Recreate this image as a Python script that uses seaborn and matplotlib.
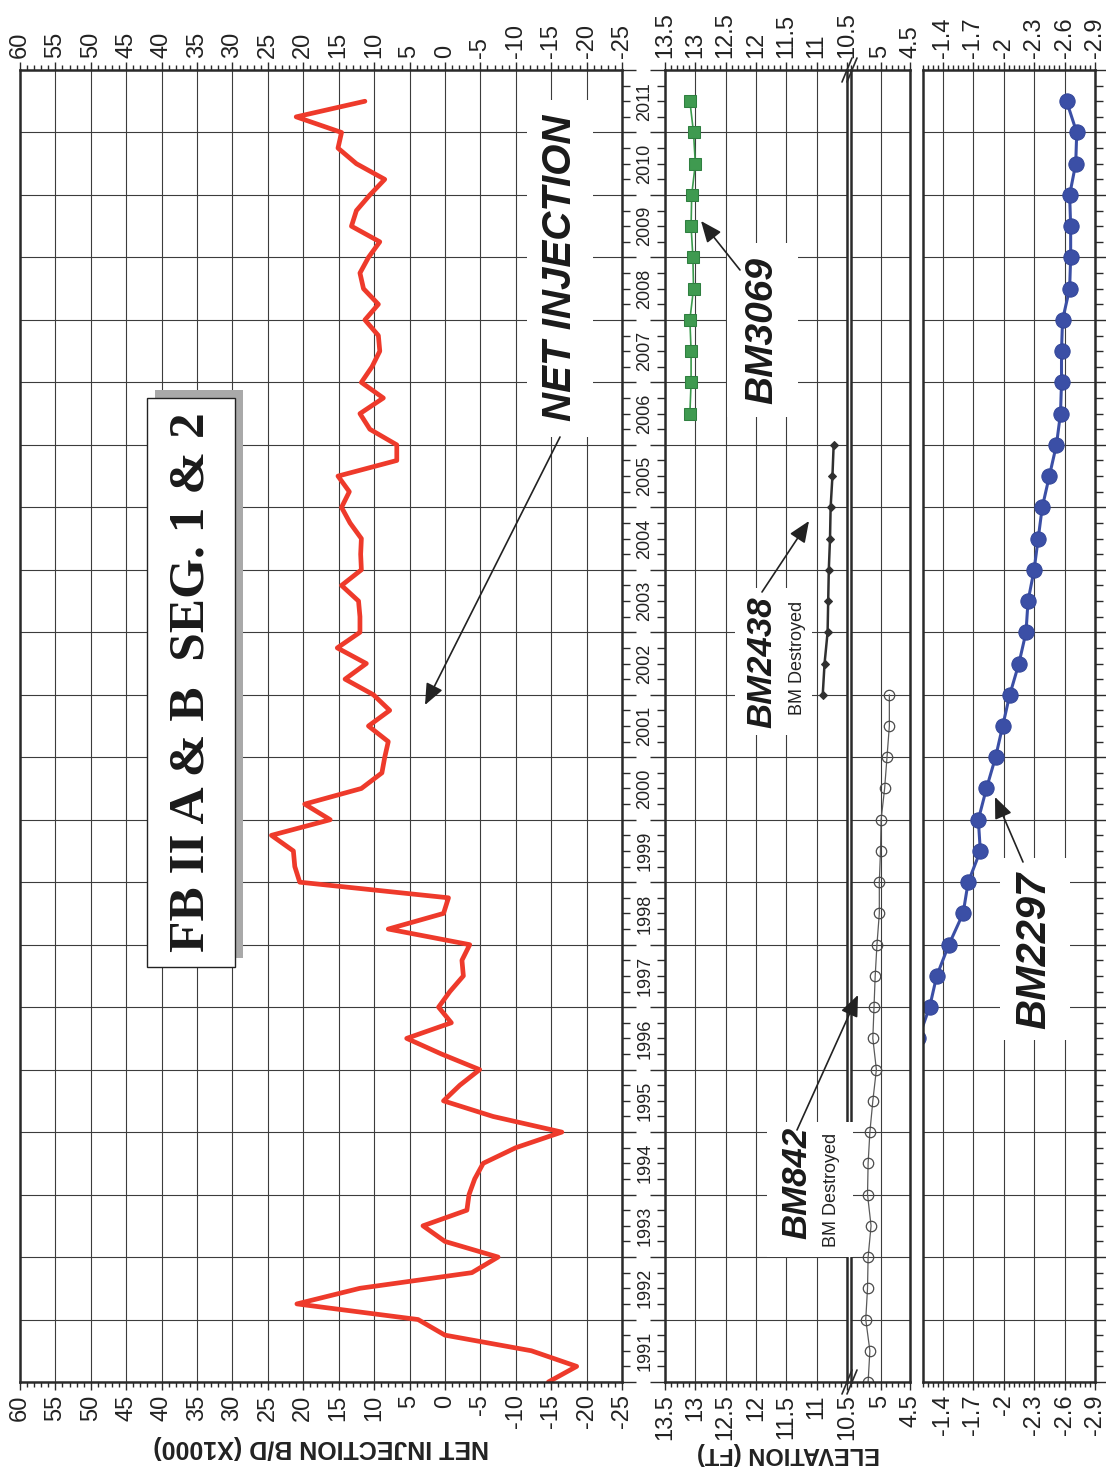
import numpy as np
import matplotlib
matplotlib.use("Agg")
import matplotlib.pyplot as plt
import matplotlib.transforms as mtransforms
import seaborn as sns
from matplotlib.patches import Rectangle, FancyArrowPatch, ArrowStyle
from matplotlib.lines import Line2D
from matplotlib.ticker import MultipleLocator, FixedLocator, FuncFormatter

# ---------------- data ----------------
# Net injection (thousand B/D), quarterly samples
inj_dates = np.arange(1991.0, 2011.51, 0.25)
net_injection = [
    -14.6, -18.6, -12.2, 0.0,
    3.8, 20.9, 12.0, -3.8,
    -7.5, 0.0, 3.1, -3.1,
    -3.4, -4.2, -5.4, -10.0,
    -16.5, -6.8, 0.2, -2.1,
    -4.9, 0.5, 5.4, -0.9,
    0.9, -0.7, -2.6, -2.4,
    -3.5, 8.0, 0.2, -0.5,
    20.5, 21.2, 21.4, 24.5,
    16.2, 19.8, 11.8, 8.9,
    8.5, 8.0, 10.8, 7.8,
    10.1, 14.1, 11.1, 15.2,
    12.0, 12.0, 12.2, 14.6,
    11.8, 11.9, 11.8, 13.4,
    14.6, 13.5, 15.1, 6.8,
    6.8, 10.6, 12.0, 8.7,
    11.8, 10.3, 9.2, 9.4,
    11.3, 9.4, 11.5, 12.0,
    10.8, 9.2, 13.2, 12.5,
    10.6, 8.5, 12.5, 15.1,
    14.6, 21.0, 11.3,
]

# Benchmark elevations (ft), semiannual surveys
bm3069_dates = [2006.5, 2007.0, 2007.5, 2008.0, 2008.5, 2009.0, 2009.5,
                2010.0, 2010.5, 2011.0, 2011.5]
bm3069 = [13.09, 13.07, 13.07, 13.09, 13.03, 13.04, 13.07, 13.06, 13.00,
          13.03, 13.09]

bm2438_dates = [2002.0, 2002.5, 2003.0, 2003.5, 2004.0, 2004.5, 2005.0,
                2005.5, 2006.0]
bm2438 = [10.90, 10.87, 10.82, 10.81, 10.80, 10.78, 10.77, 10.74, 10.72]

bm842_dates = [1991.0, 1991.5, 1992.0, 1992.5, 1993.0, 1993.5, 1994.0,
               1994.5, 1995.0, 1995.5, 1996.0, 1996.5, 1997.0, 1997.5,
               1998.0, 1998.5, 1999.0, 1999.5, 2000.0, 2000.5, 2001.0,
               2001.5, 2002.0]
bm842 = [5.21, 5.18, 5.25, 5.22, 5.21, 5.16, 5.22, 5.21, 5.18, 5.13, 5.07,
         5.13, 5.11, 5.09, 5.06, 5.02, 5.02, 5.00, 4.99, 4.93, 4.89, 4.85,
         4.85]

bm2297_dates = [1996.5, 1997.0, 1997.5, 1998.0, 1998.5, 1999.0, 1999.5,
                2000.0, 2000.5, 2001.0, 2001.5, 2002.0, 2002.5, 2003.0,
                2003.5, 2004.0, 2004.5, 2005.0, 2005.5, 2006.0, 2006.5,
                2007.0, 2007.5, 2008.0, 2008.5, 2009.0, 2009.5, 2010.0,
                2010.5, 2011.0, 2011.5]
bm2297 = [-1.16, -1.27, -1.34, -1.46, -1.60, -1.65, -1.77, -1.75, -1.83,
          -1.92, -1.99, -2.06, -2.15, -2.22, -2.24, -2.30, -2.34, -2.38,
          -2.45, -2.52, -2.56, -2.57, -2.57, -2.58, -2.65, -2.66, -2.66,
          -2.65, -2.71, -2.72, -2.62]

year_labels = list(range(1991, 2012))
inj_ticks = list(range(-25, 61, 5))
elev_hi_ticks = [13.5, 13.0, 12.5, 12.0, 11.5, 11.0, 10.5]
elev_lo_ticks = [5.0, 4.5]
elev_neg_ticks = [-1.4, -1.7, -2.0, -2.3, -2.6, -2.9]

# ---------------- styling ----------------
sns.set_theme(style="white")
plt.rcParams["font.family"] = ["Liberation Sans Narrow", "Liberation Sans", "DejaVu Sans"]
plt.rcParams["axes.unicode_minus"] = False

INK = "#2a2a2a"
GRID = "#3c3c3c"

W, H = 1106, 1467
fig = plt.figure(figsize=(W / 100, H / 100), dpi=100)
fig.patch.set_facecolor("white")


def fx(px):
    return px / W


def fy(py):
    return 1 - py / H


def box(x0, x1, y0, y1):
    return [fx(x0), fy(y1), fx(x1) - fx(x0), fy(y0) - fy(y1)]


TOP, BOT = 70, 1382
ax1 = fig.add_axes(box(20, 622, TOP, BOT))
ax2a = fig.add_axes(box(665, 847, TOP, BOT))
ax2b = fig.add_axes(box(851, 910, TOP, BOT))
ax3 = fig.add_axes(box(922.5, 1095, TOP, BOT))

fmt = FuncFormatter(lambda v, p: f"{v:g}")

for ax in (ax1, ax2a, ax2b, ax3):
    ax.set_facecolor("white")
    ax.set_ylim(1991, 2012)
    ax.yaxis.set_major_locator(MultipleLocator(1))
    ax.yaxis.set_minor_locator(MultipleLocator(0.25))
    ax.set_axisbelow(True)
    ax.grid(True, which="major", color=GRID, lw=0.8)
    for s in ax.spines.values():
        s.set_linewidth(1.8)
        s.set_color(INK)
        s.set_visible(True)
    ax.tick_params(axis="y", which="both", left=False, right=False,
                   labelleft=False, labelright=False, color=INK)
    ax.tick_params(axis="x", which="both", top=True, bottom=True,
                   labeltop=True, labelbottom=True, direction="out",
                   color=INK, width=1.0)
    ax.tick_params(axis="x", which="major", length=6, pad=3,
                   labelsize=17, labelrotation=90, labelcolor="#222222")
    ax.tick_params(axis="x", which="minor", length=3.5)
    ax.xaxis.set_major_formatter(fmt)

ax1.set_xlim(60, -25)
ax1.xaxis.set_major_locator(FixedLocator(inj_ticks))
ax1.xaxis.set_minor_locator(MultipleLocator(1))

ax2a.set_xlim(13.5, 10.5)
ax2a.xaxis.set_major_locator(FixedLocator(elev_hi_ticks))
ax2a.xaxis.set_minor_locator(MultipleLocator(0.1))

ax2b.set_xlim(5.5, 4.5)
ax2b.xaxis.set_major_locator(FixedLocator(elev_lo_ticks))
ax2b.xaxis.set_minor_locator(MultipleLocator(0.1))

ax3.set_xlim(-1.2, -2.9)
ax3.xaxis.set_major_locator(FixedLocator(elev_neg_ticks))
ax3.xaxis.set_minor_locator(MultipleLocator(0.05))

# time ticks between panels and at the far right
ax1.tick_params(axis="y", which="major", right=True, length=10, width=1.0, direction="out")
ax1.tick_params(axis="y", which="minor", right=True, length=6, width=1.0, direction="out")
ax2a.tick_params(axis="y", which="major", left=True, length=11, width=1.0, direction="out")
ax2a.tick_params(axis="y", which="minor", left=True, length=6, width=1.0, direction="out")
ax3.tick_params(axis="y", which="major", right=True, length=10, width=1.0, direction="out")
ax3.tick_params(axis="y", which="minor", right=True, length=6, width=1.0, direction="out")

# year labels centred in each year band
ytrans = mtransforms.blended_transform_factory(ax1.transAxes, ax1.transData)
for yr in year_labels:
    ax1.text(1.038, yr + 0.5, str(yr), transform=ytrans, rotation=90,
             ha="center", va="center", fontsize=13, color="#222222")

# ---------------- series ----------------
sns.lineplot(x=net_injection, y=inj_dates, orient="y", sort=False,
             estimator=None, color="#EE3A2B", linewidth=3.4, ax=ax1)

sns.lineplot(x=bm3069, y=bm3069_dates, orient="y", sort=False, estimator=None,
             color="#3a9a4c", linewidth=1.2, marker="s", markersize=8.5,
             markerfacecolor="#3f9a50", markeredgecolor="#2f7f40", ax=ax2a)
sns.lineplot(x=bm2438, y=bm2438_dates, orient="y", sort=False, estimator=None,
             color="#303030", linewidth=1.8, marker="D", markersize=4.5,
             markerfacecolor="#303030", markeredgecolor="#303030", ax=ax2a)
sns.lineplot(x=bm842, y=bm842_dates, orient="y", sort=False, estimator=None,
             color="#5a5a5a", linewidth=0.9, marker="o", markersize=7.5,
             markerfacecolor="none", markeredgecolor="#4a4a4a",
             markeredgewidth=0.9, ax=ax2b)
sns.lineplot(x=bm2297, y=bm2297_dates, orient="y", sort=False, estimator=None,
             color="#3b4fa6", linewidth=2.2, marker="o", markersize=11,
             markerfacecolor="#3b4fa6", markeredgecolor="#34479a", ax=ax3)

for ax in (ax1, ax2a, ax2b, ax3):
    ax.set_xlabel("")
    ax.set_ylabel("")
    leg = ax.get_legend()
    if leg is not None:
        leg.remove()

# ---------------- axis break between the elevation scales ----------------
for yy in (TOP, BOT):
    fig.add_artist(Line2D([fx(846), fx(852)], [fy(yy), fy(yy)], color=INK, lw=1.8))
    for dx in (0, 5):
        fig.add_artist(Line2D([fx(842 + dx), fx(852 + dx)], [fy(yy + 12), fy(yy - 12)],
                              color=INK, lw=1.2))


# ---------------- labels, boxes, arrows ----------------
def white_box(x0, x1, y0, y1):
    fig.add_artist(Rectangle((fx(x0), fy(y1)), fx(x1) - fx(x0), fy(y0) - fy(y1),
                             transform=fig.transFigure, facecolor="white",
                             edgecolor="none", zorder=2))


def arrow(x0, y0, x1, y1, lw=1.2):
    fig.add_artist(FancyArrowPatch((fx(x0), fy(y0)), (fx(x1), fy(y1)),
                                   transform=fig.transFigure,
                                   arrowstyle=ArrowStyle("-|>", head_length=1.0, head_width=0.42),
                                   mutation_scale=13, lw=lw, color="#222222",
                                   shrinkA=0, shrinkB=0, zorder=4))


# title box with drop shadow
fig.add_artist(Rectangle((fx(155), fy(958)), fx(243) - fx(155), fy(390) - fy(958),
                         transform=fig.transFigure, facecolor="#a9a9a9",
                         edgecolor="none", zorder=2))
fig.add_artist(Rectangle((fx(147), fy(967)), fx(235) - fx(147), fy(398) - fy(967),
                         transform=fig.transFigure, facecolor="white",
                         edgecolor="#222222", lw=1.0, zorder=2.5))
fig.text(fx(192), fy(682), "FB II A & B  SEG. 1 & 2", rotation=90,
         ha="center", va="center", fontsize=37, fontweight="bold",
         family=["Liberation Serif", "DejaVu Serif"], color="#1a1a1a", zorder=3)

white_box(527, 593, 100, 437)
fig.text(fx(560), fy(268), "NET INJECTION", rotation=90, ha="center", va="center",
         fontsize=29, fontweight="bold", fontstyle="italic",
         family=["Liberation Sans", "DejaVu Sans"], color="#1a1a1a", zorder=3)
arrow(560, 437, 425, 705)

white_box(727, 798, 243, 417)
fig.text(fx(762), fy(330), "BM3069", rotation=90, ha="center", va="center",
         fontsize=28, fontweight="bold", fontstyle="italic",
         family=["Liberation Sans", "DejaVu Sans"], color="#1a1a1a", zorder=3)
arrow(740, 270, 701, 221)

white_box(735, 812, 588, 735)
fig.text(fx(762), fy(662), "BM2438", rotation=90, ha="center", va="center",
         fontsize=25, fontweight="bold", fontstyle="italic",
         family=["Liberation Sans", "DejaVu Sans"], color="#1a1a1a", zorder=3)
fig.text(fx(797), fy(658), "BM Destroyed", rotation=90, ha="center", va="center",
         fontsize=13, family=["Liberation Sans", "DejaVu Sans"], color="#222222", zorder=3)
arrow(762, 592, 809, 521)

white_box(767, 853, 1122, 1257)
fig.text(fx(797), fy(1183), "BM842", rotation=90, ha="center", va="center",
         fontsize=25, fontweight="bold", fontstyle="italic",
         family=["Liberation Sans", "DejaVu Sans"], color="#1a1a1a", zorder=3)
fig.text(fx(831), fy(1190), "BM Destroyed", rotation=90, ha="center", va="center",
         fontsize=13, family=["Liberation Sans", "DejaVu Sans"], color="#222222", zorder=3)
arrow(797, 1130, 858, 995)

white_box(1000, 1070, 858, 1040)
fig.text(fx(1034), fy(950), "BM2297", rotation=90, ha="center", va="center",
         fontsize=30, fontweight="bold", fontstyle="italic",
         family=["Liberation Sans", "DejaVu Sans"], color="#1a1a1a", zorder=3)
arrow(1023, 862, 995, 797)

# axis titles
fig.text(fx(321), fy(1447), "NET INJECTION B/D (X1000)", rotation=180,
         ha="center", va="center", fontsize=18, fontweight="bold",
         family=["Liberation Sans", "DejaVu Sans"], color="#222222")
fig.text(fx(788), fy(1454), "ELEVATION (FT)", rotation=180,
         ha="center", va="center", fontsize=17, fontweight="bold",
         family=["Liberation Sans", "DejaVu Sans"], color="#222222")

fig.savefig("out.png", dpi=100, facecolor="white")
